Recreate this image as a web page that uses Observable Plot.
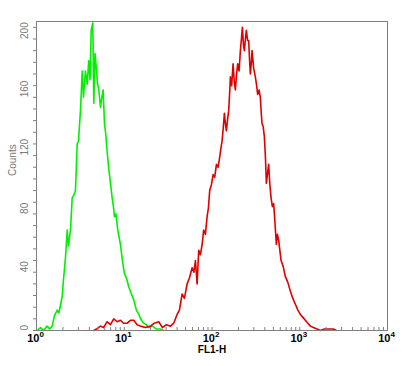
<!DOCTYPE html>
<html><head><meta charset="utf-8">
<script src="https://cdn.jsdelivr.net/npm/d3@7"></script>
<script src="https://cdn.jsdelivr.net/npm/@observablehq/plot@0.6"></script>
<style>body{margin:0;background:#fff;}</style>
</head><body><div id="chart"></div>
<script>
// FL1-H values and counts (green = control, red = stained)
const greenX = [1.02,1.11,1.20,1.32,1.41,1.51,1.60,1.72,1.80,1.96,2.03,2.14,2.24,2.31,2.44,2.55,2.67,2.78,2.91,3.01,3.17,3.32,3.43,3.61,3.78,3.94,4.07,4.20,4.38,4.50,4.64,4.79,4.95,5.13,5.36,5.55,5.75,5.95,6.15,6.38,6.61,6.84,7.28,7.53,7.73,8.04,8.43,9.05,9.53,10.05,10.59,11.25,12.08,12.83,13.76,14.63,15.70,16.68,17.90,19.01,20.95,23.27,25.82,27.93];
const greenY = [0,2,0,3,1,3,10,14,12,23,35,50,69,58,69,91,93,96,128,130,151,178,160,178,169,185,172,206,211,156,190,181,170,165,153,160,165,142,135,123,113,105,91,85,78,80,69,59,48,39,36,30,25,21,14,11,7,5,4,2,3,1,1,0];
const redX = [4.50,4.82,5.36,5.80,6.38,6.96,7.59,8.29,9.05,9.79,10.79,11.77,12.83,14.03,15.30,17.42,19.87,22.06,24.72,27.23,30.25,33.59,36.62,40.01,42.54,45.63,48.50,52.04,55.30,59.31,62.21,64.74,67.66,70.60,73.79,77.15,80.41,84.08,87.89,90.98,94.16,98.45,102.9,107.4,112.3,117.3,122.4,126.3,130.3,134.8,138.4,142.1,145.9,150.6,155.0,158.6,162.0,167.5,173.8,178.9,184.7,190.6,196.2,203.5,210.6,216.3,222.0,228.1,233.9,240.0,246.4,254.2,261.6,267.8,273.5,280.9,285.9,298.4,311.9,322.8,331.2,343.6,355.6,363.3,371.7,382.8,395.1,405.6,416.5,429.7,442.3,456.5,471.2,487.6,504.7,520.6,541.2,555.9,574.9,593.3,612.5,647.1,685.5,731.5,781.2,834.6,891.3,951.9,1016,1085,1158,1237,1321,1429,1573,1716,1907,2117,2414,2612];
const redY = [0,1,3,2,6,4,8,6,7,5,5,7,7,4,3,2,3,5,6,2,4,3,5,11,14,25,22,32,36,43,40,48,32,55,52,59,69,66,78,84,96,100,107,105,114,112,119,125,130,140,149,142,137,145,151,162,174,168,183,172,165,176,183,178,192,200,208,196,192,200,206,199,199,186,176,184,192,180,174,168,162,165,160,150,142,140,133,120,101,108,114,100,91,85,87,75,59,66,62,55,48,44,37,33,27,22,18,14,11,9,7,5,3,2,1,0,1,1,1,0];

const yTicks = [0,40,80,120,160,200];
const yMinorTicks = [0,8,16,24,32,40,48,56,64,72,80,88,96,104,112,120,128,136,144,152,160,168,176,184,192,200,208];
const xDecades = [1,10,100,1000,10000];
const xExponents = ["0","1","2","3","4"];
const xMinorTicks = [1,2,3,4,5,6,7,8,9,10,20,30,40,50,60,70,80,90,100,200,300,400,500,600,700,800,900,1000,2000,3000,4000,5000,6000,7000,8000,9000,10000];
const xLabel = "FL1-H";
const yLabel = "Counts";

const green = greenX.map((x, i) => ({x, y: greenY[i]}));
const red = redX.map((x, i) => ({x, y: redY[i]}));

const chart = Plot.plot({
  width: 408, height: 366,
  marginLeft: 36, marginRight: 21, marginTop: 21, marginBottom: 36,
  style: {fontFamily: "'Liberation Sans', Arial, sans-serif", background: "#fff"},
  x: {type: "log", domain: [1, 10000]},
  y: {domain: [0, 212]},
  marks: [
    Plot.line(green, {x: "x", y: "y", stroke: "#00f000", strokeWidth: 1.6}),
    Plot.line(red, {x: "x", y: "y", stroke: "#e00000", strokeWidth: 1.6}),
    Plot.frame({stroke: "#808080"}),
    Plot.axisY({ticks: yMinorTicks, tickSize: 3, tickFormat: () => "", label: null, stroke: "#808080"}),
    Plot.axisX({ticks: xMinorTicks, tickSize: -3, tickFormat: () => "", label: null, stroke: "#808080"}),
    Plot.text(yTicks, {y: d => d, text: d => String(d), frameAnchor: "left", dx: -12, rotate: -90, fill: "#777", fontSize: 10}),
    Plot.text([yLabel], {frameAnchor: "left", dx: -24, rotate: -90, fill: "#777", fontSize: 10}),
    Plot.text(xDecades, {x: d => d, text: () => "10", frameAnchor: "bottom", dy: 11, dx: 3, textAnchor: "end", fontWeight: "bold", fontSize: 11, fill: "#000"}),
    Plot.text(xDecades, {x: d => d, text: (d, i) => xExponents[i], frameAnchor: "bottom", dy: 6, dx: 3, textAnchor: "start", fontWeight: "bold", fontSize: 8, fill: "#000"}),
    Plot.text([xLabel], {frameAnchor: "bottom", dy: 22.5, fontWeight: "bold", fontSize: 10, fill: "#000"})
  ]
});
document.getElementById("chart").appendChild(chart);
</script>
</body></html>
